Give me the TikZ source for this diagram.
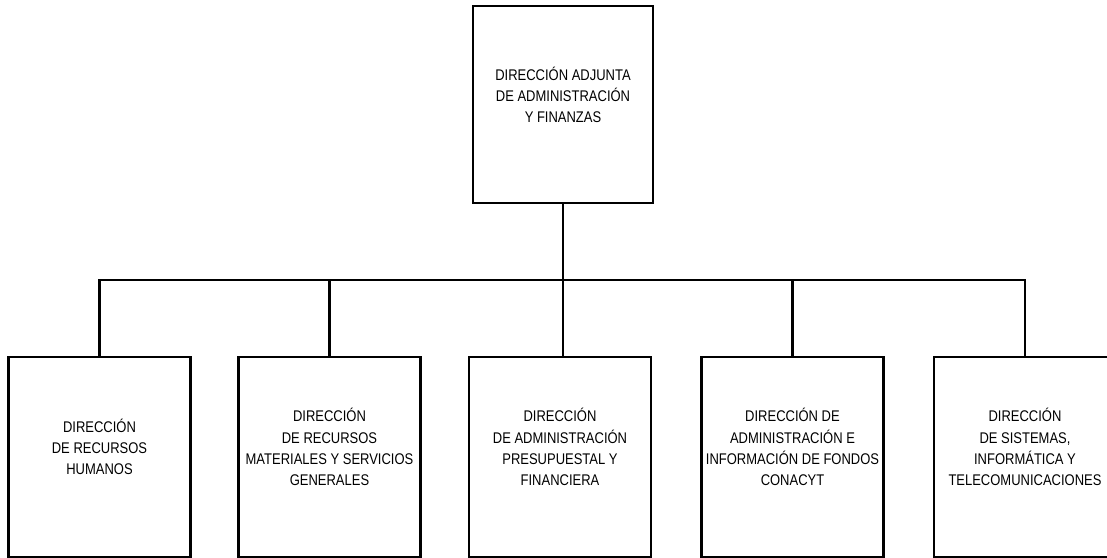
\documentclass[tikz,border=0pt]{standalone}
\usepackage{fontspec}
\setmainfont{Liberation Sans}[FakeStretch=0.84]
\usepackage{tikz}
\tikzset{
    unitbox/.style={shape=rectangle, draw=black, line width=2.1pt, minimum width=4.55cm, minimum height=5cm, inner sep=0pt},
    topbox/.style={unitbox, minimum width=4.5cm, minimum height=4.925cm},
    unittext/.style={align=center, font=\fontsize{11}{15}\selectfont, inner sep=0pt},
    link/.style={draw=black, line width=1.6pt}}

\begin{document}
\begin{tikzpicture}

                    \useasboundingbox (0,0) rectangle (27.675,-13.95);

                    \node[topbox] (DA) at (14.075,-2.6125) {};
                    \node[unittext] (DAt) at ([yshift=0.25cm]DA.center) {DIRECCIÓN ADJUNTA\\DE ADMINISTRACIÓN\\Y FINANZAS};

                    \coordinate (bus) at (0,-7);

                    \node[unitbox] (RH) at (2.4875,-11.425) {};
                    \node[unitbox] (RM) at (8.2375,-11.425) {};
                    \node[unitbox] (AP) at (14.0,-11.425) {};
                    \node[unitbox] (FC) at (19.8125,-11.425) {};
                    \node[unitbox] (ST) at (25.625,-11.425) {};

                    \node[unittext] (RHt) at ([yshift=0.25cm]RH.center) {DIRECCIÓN\\DE RECURSOS\\HUMANOS};
                    \node[unittext] (RMt) at ([yshift=0.25cm]RM.center) {DIRECCIÓN\\DE RECURSOS\\MATERIALES Y SERVICIOS\\GENERALES};
                    \node[unittext] (APt) at ([yshift=0.25cm]AP.center) {DIRECCIÓN\\DE ADMINISTRACIÓN\\PRESUPUESTAL Y\\FINANCIERA};
                    \node[unittext] (FCt) at ([yshift=0.25cm]FC.center) {DIRECCIÓN DE\\ADMINISTRACIÓN E\\INFORMACIÓN DE FONDOS\\CONACYT};
                    \node[unittext] (STt) at ([yshift=0.25cm]ST.center) {DIRECCIÓN\\DE SISTEMAS,\\INFORMÁTICA Y\\TELECOMUNICACIONES};

                    \draw[link] (AP.north -| DA.south) -- (DA.south);
                    \draw[link] (RH.north) -- (RH.north |- bus) -- (ST.north |- bus) -- (ST.north);
                    \draw[link] (RM.north) -- (RM.north |- bus);
                    \draw[link] (FC.north) -- (FC.north |- bus);

                \end{tikzpicture}
\end{document}
